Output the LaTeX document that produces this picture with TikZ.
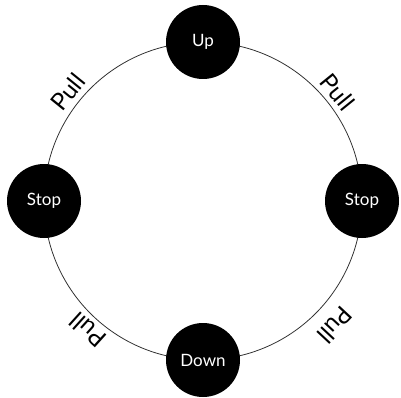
\documentclass[tikz,border=0pt]{standalone}
\usepackage{fontspec}
\setmainfont{Lato}
\usetikzlibrary{backgrounds}
\begin{document}
\begin{tikzpicture}[x=1pt,y=1pt,
  state/.style={circle,fill=black,text=white,minimum size=74pt,inner sep=0pt,font=\fontsize{17}{20}\selectfont},
  ring/.style={draw=black!80,line width=0.8pt},
  lbl/.style={font=\fontsize{24}{28}\selectfont,inner sep=0pt}]
\useasboundingbox (0,0) rectangle (401,397);
\coordinate (c) at (203,196);
\node[state] (up) at (203,355) {Up};
\node[state] (down) at (203,37) {Down};
\node[state] (stopl) at (44,196) {Stop};
\node[state] (stopr) at (362,196) {Stop};
\begin{scope}[on background layer]
\draw[ring] (up.center) to[bend right=45] (stopl.center);
\draw[ring] (stopl.center) to[bend right=45] (down.center);
\draw[ring] (down.center) to[bend right=45] (stopr.center);
\draw[ring] (stopr.center) to[bend right=45] (up.center);
\end{scope}
\node[lbl,rotate=51] (p1) at (68,305) {Pull};
\node[lbl,rotate=-51] (p2) at (338,305) {Pull};
\node[lbl,rotate=138] (p3) at (88,67) {Pull};
\node[lbl,rotate=-133] (p4) at (335,72) {Pull};
\end{tikzpicture}
\end{document}
